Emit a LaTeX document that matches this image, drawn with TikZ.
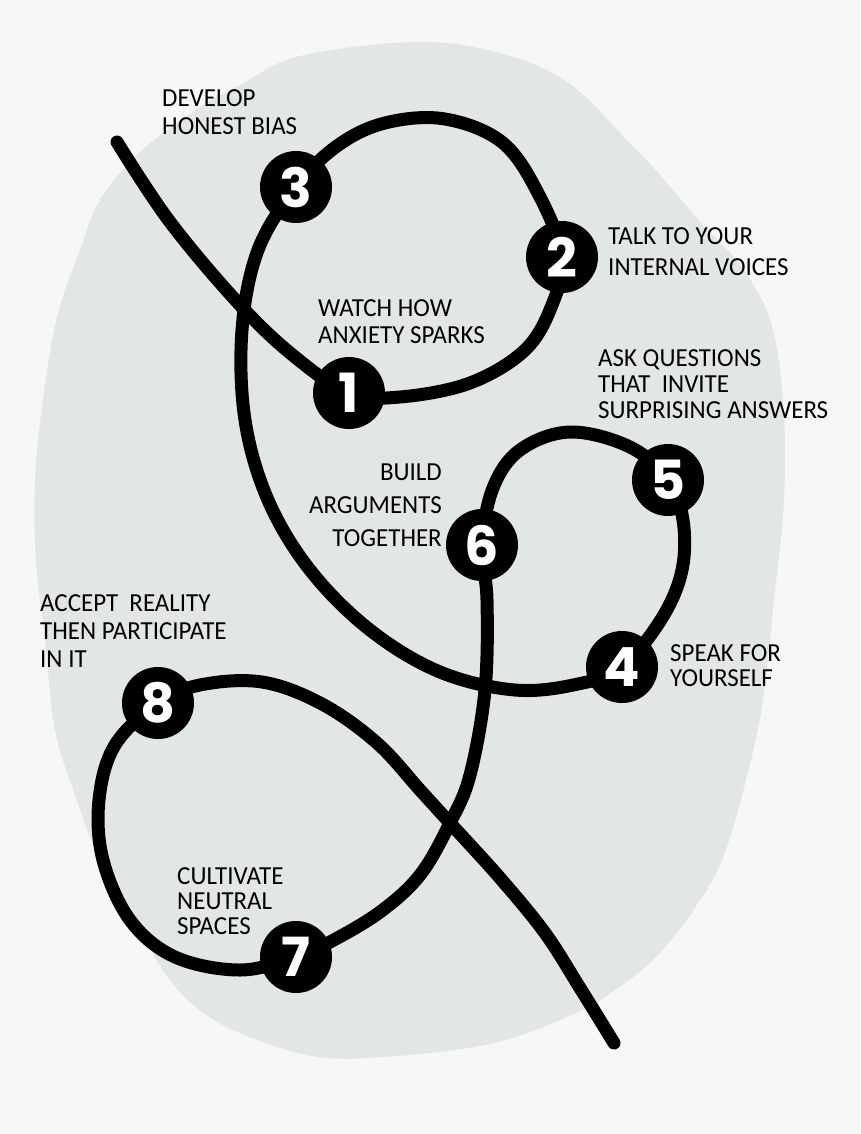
\documentclass[tikz,border=0pt]{standalone}
\usepackage{fontspec}
\newfontfamily\handfont[FakeStretch=0.96]{Carlito}
\newfontfamily\numfont{Poppins}
\usetikzlibrary{backgrounds}
\definecolor{bgcol}{RGB}{247,247,247}
\definecolor{blobcol}{RGB}{227,231,228}
\begin{document}
\begin{tikzpicture}[x=1pt,y=1pt,
  numnode/.style={circle, fill=black, minimum size=72pt, inner sep=0pt, text=white,
    font=\numfont\fontsize{54}{54}\selectfont\bfseries},
  lbl/.style={inner sep=0pt, align=left, font=\handfont\fontsize{26}{#1}\selectfont},
  lbl/.default=28,
  trail/.style={line width=13pt, line cap=round, line join=round}
]
\useasboundingbox (0,0) rectangle (860,-1134);

% numbered stations
\node[numnode] (n1) at (349,-393) {1};
\node[numnode] (n2) at (562,-257) {2};
\node[numnode] (n3) at (296,-187) {3};
\node[numnode] (n4) at (622,-667) {4};
\node[numnode] (n5) at (668,-480) {5};
\node[numnode] (n6) at (482,-545) {6};
\node[numnode] (n7) at (296,-957) {7};
\node[numnode] (n8) at (158,-703) {8};

% labels
\node[lbl=28, anchor=north west] (t3) at (162,-89) {DEVELOP\\HONEST BIAS};
\node[lbl=31, anchor=north west] (t2) at (608,-227) {TALK TO YOUR\\INTERNAL VOICES};
\node[lbl=27, anchor=north west] (t1) at (318,-299) {WATCH HOW\\ANXIETY SPARKS};
\node[lbl=26, anchor=north west] (t5) at (598,-349) {ASK QUESTIONS\\THAT \ INVITE\\SURPRISING ANSWERS};
\node[lbl=33, anchor=north east, align=right] (t6) at (442,-464) {BUILD\\ARGUMENTS\\TOGETHER};
\node[lbl=25, anchor=north west] (t4) at (670,-644) {SPEAK FOR\\YOURSELF};
\node[lbl=28, anchor=north west] (t8) at (40,-594) {ACCEPT \ REALITY\\THEN PARTICIPATE\\IN IT};
\node[lbl=25, anchor=north west] (t7) at (177,-867) {CULTIVATE\\NEUTRAL\\SPACES};

\coordinate (s) at (117,-142);
\coordinate (e) at (614,-1043);

\begin{scope}[on background layer]
\fill[bgcol] (0,0) rectangle (860,-1134);
\fill[blobcol] plot[smooth cycle, tension=0.6] coordinates {
 (300,-56) (417,-42) (500,-53) (567,-82) (627,-140) (660,-175) (700,-222) (740,-265)
 (770,-320) (783,-400) (784,-500) (774,-600) (763,-700) (746,-780) (722,-860) (692,-912)
 (655,-958) (615,-990) (576,-1013) (494,-1043) (384,-1057) (307,-1055) (219,-1023)
 (168,-978) (137,-920) (100,-860) (75,-795) (55,-730) (45,-640) (36,-560) (35,-480)
 (43,-400) (57,-317) (80,-250) (100,-200) (140,-152) (200,-107) (240,-85)};
\draw[trail] plot[smooth, tension=0.6] coordinates {
 (s) (170,-222) (240,-305) (295,-357)
 (n1.center) (400,-397) (470,-383) (525,-350) (552,-305)
 (n2.center) (540,-197) (503,-143) (445,-119) (385,-123) (337,-146)
 (n3.center) (258,-250) (242,-330) (245,-420) (268,-500) (310,-570) (370,-630)
   (440,-672) (515,-690) (578,-684)
 (n4.center) (662,-618) (682,-570) (683,-520)
 (n5.center) (630,-447) (570,-432) (520,-450) (493,-488)
 (n6.center) (487,-600) (485,-690) (470,-775) (450,-823) (420,-875) (380,-912) (330,-942)
 (n7.center) (240,-970) (175,-957) (130,-920) (103,-860) (99,-800) (115,-745)
 (n8.center) (200,-685) (262,-682) (322,-704) (377,-743) (420,-790) (450,-823) (500,-878)
   (545,-933) (580,-988) (e)};
\end{scope}
\end{tikzpicture}
\end{document}
